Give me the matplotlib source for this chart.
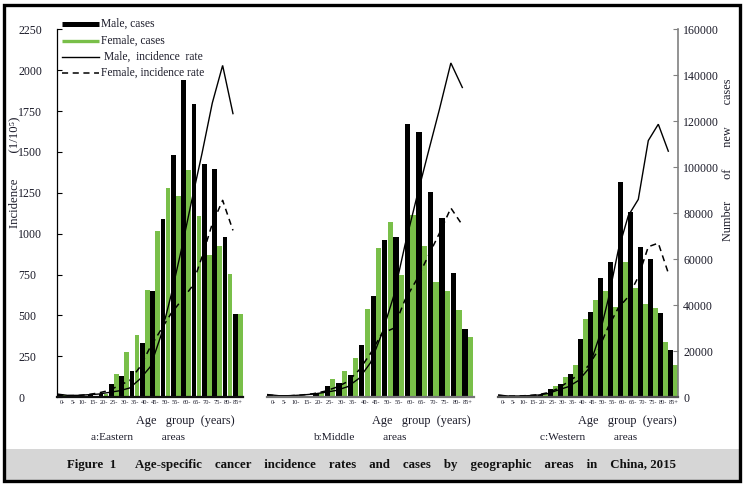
import matplotlib
matplotlib.use('Agg')
import matplotlib.pyplot as plt
from matplotlib.lines import Line2D
from matplotlib.patches import Rectangle

plt.rcParams['font.family'] = ['Liberation Serif', 'DejaVu Serif']

# ---------------- data ----------------
age_groups = ['0-', '5-', '10-', '15-', '20-', '25-', '30-', '35-', '40-', '45-',
              '50-', '55-', '60-', '65-', '70-', '75-', '80-', '85+']

# Eastern
male_cases_a = [1300, 400, 400, 700, 1200, 5800, 9000, 11300, 23500, 46000,
                77300, 105200, 138100, 127700, 101600, 99100, 69600, 36300]
female_cases_a = [700, 300, 300, 500, 1500, 10200, 19600, 26800, 46700, 72100,
                  91000, 87500, 99000, 78600, 61700, 65700, 53400, 36000]
male_rate_a = [18, 10, 10, 14, 18, 28, 38, 55, 110, 185,
               370, 620, 900, 1200, 1490, 1800, 2030, 1735]
female_rate_a = [15, 8, 9, 15, 25, 40, 71, 100, 184, 306,
                 408, 510, 590, 673, 857, 1061, 1204, 1020]

# Middle
male_cases_b = [1000, 400, 400, 500, 1300, 4800, 6100, 9400, 22700, 44000,
                68300, 69700, 118900, 115400, 89200, 77900, 54100, 29600]
female_cases_b = [500, 300, 300, 400, 1600, 8000, 11200, 17100, 38500, 65000,
                  76400, 53200, 79200, 65800, 50100, 46200, 37900, 26000]
male_rate_b = [15, 8, 8, 12, 18, 28, 40, 63, 114, 210,
               390, 614, 930, 1215, 1490, 1760, 2045, 1895]
female_rate_b = [12, 7, 8, 12, 20, 35, 59, 94, 165, 267,
                 390, 420, 594, 716, 859, 1002, 1157, 1053]

# Western
male_cases_c = [600, 200, 200, 300, 700, 3600, 5700, 9900, 25300, 36900,
                51700, 58800, 93400, 80500, 65400, 60200, 36600, 20500]
female_cases_c = [450, 200, 200, 300, 1300, 4800, 8600, 13900, 33900, 42300,
                  46200, 39400, 58700, 47400, 40700, 38900, 23800, 13900]
male_rate_c = [12, 6, 6, 8, 12, 22, 43, 63, 100, 170,
               350, 600, 900, 1110, 1210, 1570, 1670, 1505]
female_rate_c = [10, 5, 6, 9, 14, 27, 53, 94, 135, 190,
                 288, 430, 545, 614, 736, 920, 942, 759]

panel_titles = ['a:Eastern          areas', 'b:Middle          areas', 'c:Western          areas']
rate_ticks = list(range(0, 2251, 250))
case_ticks = list(range(0, 160001, 20000))

legend_labels = ['Male, cases', 'Female, cases', 'Male,  incidence  rate', 'Female, incidence rate']
caption = ('Figure  1      Age-specific    cancer    incidence    rates    and    cases    by    '
           'geographic    areas    in    China, 2015')

# ---------------- layout ----------------
W, H = 743, 484
fig = plt.figure(figsize=(W / 100, H / 100), dpi=100)

def fx(x):
    return x / W

def fy(y):
    return 1 - y / H

GREEN = '#79bf49'
TXT = '#1c1c2a'
Y_TOP, Y_BOT = 29.5, 397

panels = [
    (57.3, 243.3, male_cases_a, female_cases_a, male_rate_a, female_rate_a, 185, '#111111'),
    (267.3, 473.8, male_cases_b, female_cases_b, male_rate_b, female_rate_b, 421, '#777777'),
    (498.3, 678.3, male_cases_c, female_cases_c, male_rate_c, female_rate_c, 627, '#555555'),
]

n = len(age_groups)
xs = list(range(n))
for k, (x0, x1, mc, fc, mr, fr, xlab_c, base_col) in enumerate(panels):
    ax = fig.add_axes([fx(x0), fy(Y_BOT), (x1 - x0) / W, (Y_BOT - Y_TOP) / H])
    axb = ax.twinx()
    axb.bar([x - 0.5 for x in xs], mc, width=0.47, align='edge', color='black', linewidth=0)
    axb.bar([x - 0.02 for x in xs], fc, width=0.46, align='edge', color=GREEN, linewidth=0)
    line_x = [x - 0.5 for x in xs]
    ax.plot(line_x, mr, color='black', lw=1.0, solid_joinstyle='miter')
    ax.plot(line_x, fr, color='black', lw=1.1, dashes=(4, 3))
    ax.set_zorder(axb.get_zorder() + 1)
    ax.patch.set_visible(False)
    ax.set_xlim(-0.5, n - 0.5)
    ax.set_ylim(0, 2250)
    axb.set_ylim(0, 160000)

    for s in ['top', 'right']:
        ax.spines[s].set_visible(False)
    for s in ['top', 'left', 'bottom']:
        axb.spines[s].set_visible(False)
    ax.spines['bottom'].set_color(base_col)
    ax.spines['bottom'].set_linewidth(1.6)

    ax.set_xticks(xs)
    ax.set_xticklabels(age_groups, fontsize=4.6, color=TXT)
    ax.tick_params(axis='x', length=0, pad=2.5)

    if k == 0:
        ax.spines['left'].set_linewidth(0.9)
        ax.set_yticks(rate_ticks)
        ax.set_yticklabels([str(t) for t in rate_ticks], fontsize=8.6, color=TXT)
        ax.tick_params(axis='y', direction='in', length=3.5, width=0.8, pad=28)
        for lbl in ax.get_yticklabels():
            lbl.set_horizontalalignment('left')
    else:
        ax.spines['left'].set_visible(False)
        ax.set_yticks([])

    if k == 2:
        axb.spines['right'].set_color('#808080')
        axb.spines['right'].set_linewidth(1.2)
        axb.set_yticks(case_ticks)
        axb.set_yticklabels([str(t) for t in case_ticks], fontsize=8.6, color=TXT)
        axb.tick_params(axis='y', direction='in', length=3.5, width=0.8, color='#808080', pad=3.5)
    else:
        axb.spines['right'].set_visible(False)
        axb.set_yticks([])

    fig.text(fx(xlab_c), fy(421), 'Age   group  (years)', fontsize=8.8, ha='center', va='center', color=TXT)
    fig.text(fx([138, 360, 589][k]), fy(438), panel_titles[k], fontsize=8.2, ha='center', va='center', color=TXT)

# axis titles
fig.text(fx(14), fy(172), 'Incidence        (1/10\u2075)', rotation=90, fontsize=9.2,
         ha='center', va='center', color=TXT)
fig.text(fx(728), fy(160), 'Number       of       new       cases', rotation=90, fontsize=8.8,
         ha='center', va='center', color=TXT)

# legend
leg_y = [24, 40.5, 57, 73]
fig.add_artist(Line2D([fx(62), fx(99)], [fy(leg_y[0])] * 2, color='black', lw=3.6, solid_capstyle='butt'))
fig.add_artist(Line2D([fx(62), fx(99)], [fy(leg_y[1])] * 2, color=GREEN, lw=2.4, solid_capstyle='butt'))
fig.add_artist(Line2D([fx(62), fx(99)], [fy(leg_y[2])] * 2, color='black', lw=1.0))
fig.add_artist(Line2D([fx(62), fx(99)], [fy(leg_y[3])] * 2, color='black', lw=1.1, dashes=(4, 3)))
for y, lab, xt in zip(leg_y, legend_labels, [101, 101, 104, 101]):
    fig.text(fx(xt), fy(y), lab, fontsize=8.3, ha='left', va='center', color=TXT)

# caption band and frame
fig.add_artist(Rectangle((fx(3), fy(480.5)), fx(737), (480.5 - 449) / H,
                         transform=fig.transFigure, facecolor='#d6d6d6', edgecolor='none', zorder=0))
fig.add_artist(Rectangle((fx(3.5), fy(481)), fx(736.5), (481 - 4.5) / H,
                         transform=fig.transFigure, facecolor='none', edgecolor='black', lw=2.4, zorder=5))
fig.text(fx(372), fy(465), caption, fontsize=9.3, fontweight='bold', ha='center', va='center', color='#111111')

fig.savefig('out.png', dpi=100)
